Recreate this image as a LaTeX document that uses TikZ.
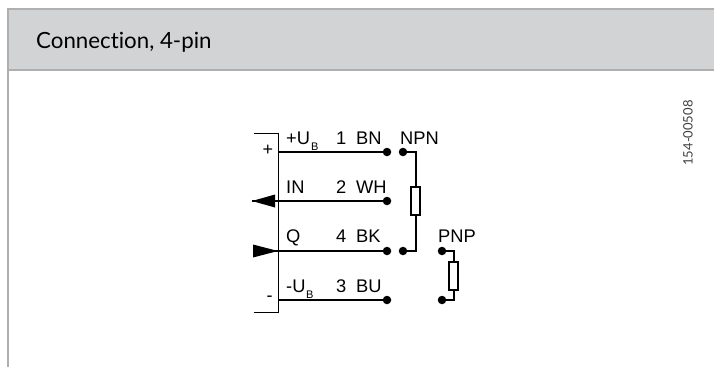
\documentclass[tikz,border=0pt]{standalone}
\usepackage{fontspec}
\setmainfont{Liberation Sans}
\newfontfamily\titlefont[Ligatures=NoCommon]{Lato}
\definecolor{headfill}{HTML}{D2D3D5}
\definecolor{headline}{HTML}{AEAFB0}
\tikzset{
  pin/.style={circle,fill=black,inner sep=0pt,minimum size=8.5pt},
  res/.style={draw=black,line width=1.8pt,fill=white,minimum width=9pt,minimum height=28pt,inner sep=0pt},
  wire/.style={line width=2pt},
  lab/.style={inner sep=0pt,anchor=base west,font=\fontsize{18.3}{18}\selectfont},
  sub/.style={inner sep=0pt,anchor=base west,font=\fontsize{11}{11}\selectfont},
}
\begin{document}
\begin{tikzpicture}[x=1pt,y=-1pt]
\useasboundingbox (0,0) rectangle (714,367);
% frame
\fill[headfill] (8,9) rectangle (714,70);
\draw[headline,line width=1.6pt] (714,9) -- (8,9) -- (8,367);
\draw[headline,line width=1.6pt] (8,70) -- (714,70);
\node[inner sep=0pt,anchor=base west,font=\titlefont\fontsize{22.3}{22}\selectfont] (title) at (36,48) {Connection, 4-pin};
\node[inner sep=0pt,rotate=90,font=\titlefont\fontsize{13}{13}\selectfont,text=black!75] (code) at (688,133) {154-00508};
% connector block
\coordinate (bustop) at (254,133);
\coordinate (busbot) at (254,312);
\draw[line width=0.9pt] (bustop) -- (278,133) -- (278,312) -- (busbot);
\coordinate (w1) at (278,152);
\coordinate (w2) at (278,201);
\coordinate (w4) at (278,251);
\coordinate (w3) at (278,300);
\node[pin] (p1) at (387,152) {};
\node[pin] (p2) at (387,201) {};
\node[pin] (p4) at (387,251) {};
\node[pin] (p3) at (387,300) {};
\draw[wire] (w1) -- (p1);
\draw[wire] (w2) -- (p2);
\draw[wire] (w4) -- (p4);
\draw[wire] (w3) -- (p3);
% arrows
\coordinate (intip) at (252,201);
\coordinate (qbase) at (253,251);
\fill (intip) -- (275,194.5) -- (275,207.5) -- cycle;
\fill (278,251) -- (253,244.5) -- (253,257.5) -- cycle;
\draw[wire] (intip) -- (w2);
\draw[wire] (qbase) -- (w4);
% labels
\node[inner sep=0pt,font=\fontsize{18}{18}\selectfont] (plus) at (268,150.5) {+};
\node[inner sep=0pt,font=\fontsize{18}{18}\selectfont] (minus) at (269.5,299) {-};
\node[lab] (ub) at (286,144) {+U};
\node[sub] (ubs) at (311,150) {B};
\node[lab] (n1) at (336,144) {1};
\node[lab] (bn) at (356,144) {BN};
\node[lab] (in) at (286,193) {IN};
\node[lab] (n2) at (336,193) {2};
\node[lab] (wh) at (356,193) {WH};
\node[lab] (q) at (286,242) {Q};
\node[lab] (n4) at (336,242) {4};
\node[lab] (bk) at (356,242) {BK};
\node[lab] (mu) at (286,292) {-U};
\node[sub] (mus) at (306,298) {B};
\node[lab] (n3) at (336,292) {3};
\node[lab] (bu) at (356,292) {BU};
% NPN
\node[lab] (npn) at (400,144) {NPN};
\node[pin] (npntop) at (403,152) {};
\node[pin] (npnbot) at (403,251) {};
\node[res] (rnpn) at (415.5,201) {};
\draw[wire] (npntop) -| (rnpn);
\draw[wire] (rnpn) |- (npnbot);
% PNP
\node[lab] (pnp) at (438,242) {PNP};
\node[pin] (pnptop) at (442,251) {};
\node[pin] (pnpbot) at (442,300) {};
\node[res] (rpnp) at (453.5,276) {};
\draw[wire] (pnptop) -| (rpnp);
\draw[wire] (rpnp) |- (pnpbot);
\end{tikzpicture}
\end{document}
